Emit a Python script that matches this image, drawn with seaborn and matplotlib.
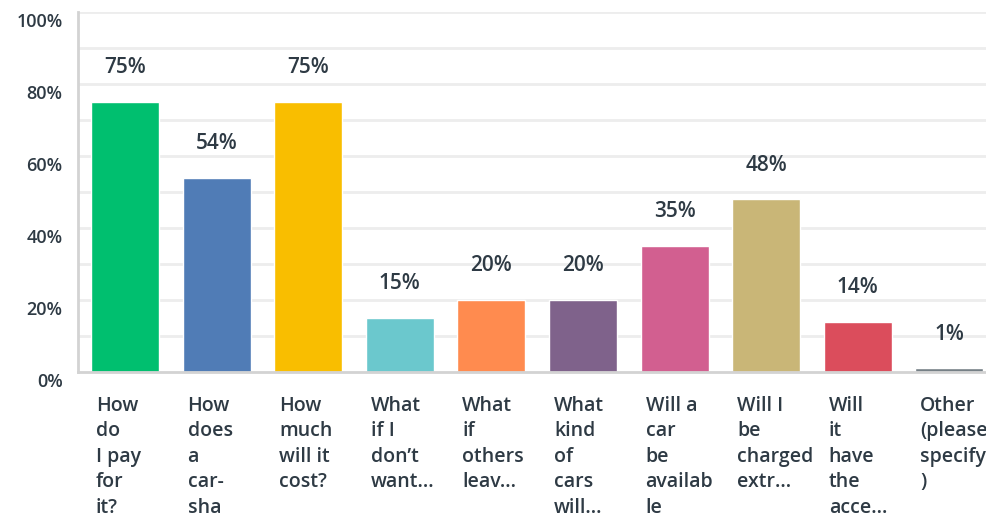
import matplotlib
matplotlib.use("Agg")
import matplotlib.pyplot as plt
import matplotlib.transforms as mtransforms
import seaborn as sns
import pandas as pd

# answer choices, shown truncated / wrapped as in the survey export
labels = [
    "How\ndo\nI pay\nfor\nit?",
    "How\ndoes\na\ncar-\nsha",
    "How\nmuch\nwill it\ncost?",
    "What\nif I\ndon\u2019t\nwant...",
    "What\nif\nothers\nleav...",
    "What\nkind\nof\ncars\nwill...",
    "Will a\ncar\nbe\navailab\nle",
    "Will I\nbe\ncharged\nextr...",
    "Will\nit\nhave\nthe\nacce...",
    "Other\n(please\nspecify\n)",
]
values = [75, 54, 75, 15, 20, 20, 35, 48, 14, 1]
colors = ["#00BF6F", "#507CB6", "#F9BE00", "#6BC8CD", "#FF8B4F",
          "#7F628B", "#D25F90", "#C9B677", "#DB4D5C", "#768086"]
yticks = [0, 20, 40, 60, 80, 100]

TEXT = "#2E3A44"

sns.set_style("white")
plt.rcParams['font.family'] = ['Open Sans', 'DejaVu Sans']

df = pd.DataFrame({"answer": labels, "pct": values})

fig = plt.figure(figsize=(9.86, 5.14), dpi=100)
ax = fig.add_axes([78 / 986, 1 - 372 / 514, 1 - 78 / 986, 360 / 514])

sns.barplot(data=df, x="answer", y="pct", hue="answer", palette=colors,
            width=0.743, legend=False, ax=ax, saturation=1, zorder=3)

ax.set_ylim(0, 100)
ax.set_xlim(-0.513, 9.4)

# light gridlines every 10%
for y in range(10, 101, 10):
    ax.axhline(y, color="#EDEDED", lw=2, zorder=1)

for c in ax.containers:
    bars = [b for b in c if b is not None]
    ax.bar_label(c, labels=[f"{b.get_height():.0f}%" for b in bars], padding=17,
                 fontsize=15, color=TEXT, fontweight="semibold")

ax.set_yticks(yticks)
ax.set_yticklabels([f"{t}%" for t in yticks], fontsize=13,
                   color=TEXT, fontweight="semibold")
ax.tick_params(axis="y", length=0, pad=11)
shift = mtransforms.ScaledTranslation(0, -0.08, fig.dpi_scale_trans)
for lab in ax.get_yticklabels():
    lab.set_transform(lab.get_transform() + shift)

ax.set_xticks(range(len(labels)))
ax.set_xticklabels(labels, fontsize=14, color=TEXT, fontweight="semibold",
                   ha="left", va="top", linespacing=1.37)
ax.tick_params(axis="x", length=0, pad=17)
xshift = mtransforms.ScaledTranslation(-0.29, 0, fig.dpi_scale_trans)
for lab in ax.get_xticklabels():
    lab.set_transform(lab.get_transform() + xshift)

ax.set_xlabel("")
ax.set_ylabel("")
for side in ["top", "right"]:
    ax.spines[side].set_visible(False)
ax.spines["left"].set_color("#D3D3D3")
ax.spines["left"].set_linewidth(2)
ax.spines["bottom"].set_color("#D3D3D3")
ax.spines["bottom"].set_linewidth(2)
ax.spines["bottom"].set_zorder(4)

fig.savefig("out.png", dpi=100)
